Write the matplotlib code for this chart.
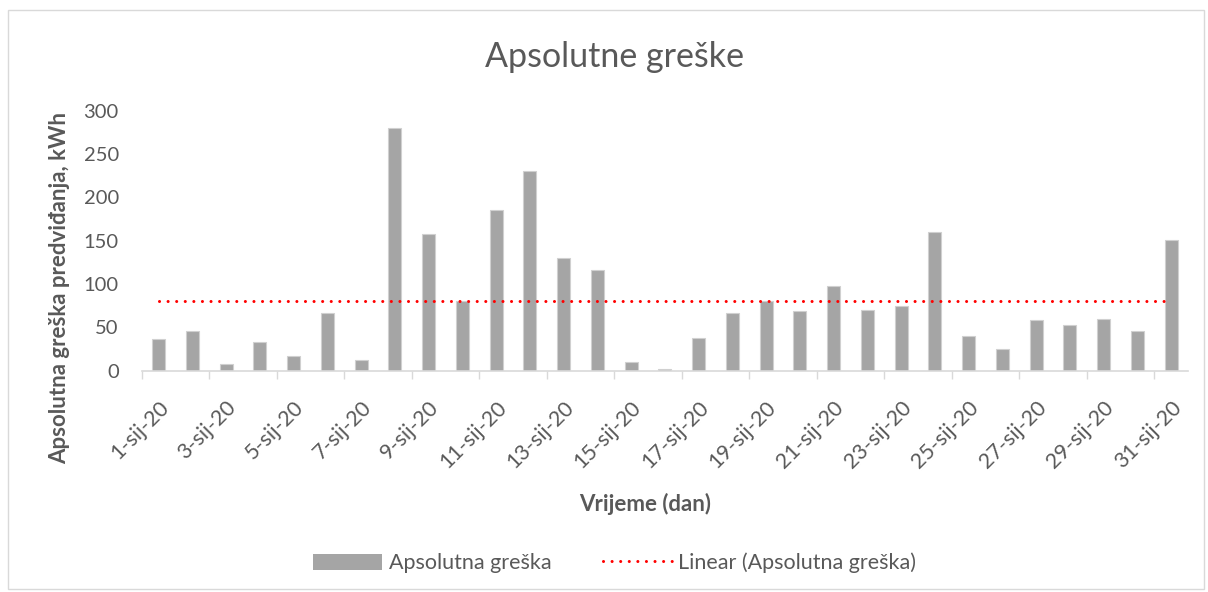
import numpy as np
import matplotlib
matplotlib.use("Agg")
import matplotlib.pyplot as plt
from matplotlib.patches import Rectangle
from matplotlib.lines import Line2D

plt.rcParams["font.family"] = ["Lato", "DejaVu Sans"]

# daily absolute forecast error, January 2020
days = list(range(1, 32))
abs_error = [37, 46, 8, 33, 17, 67, 12, 280, 158, 80,
             186, 231, 130, 116, 10, 2, 38, 67, 81, 69,
             98, 70, 75, 160, 40, 25, 59, 53, 60, 46, 151]
tick_labels = [f"{d}-sij-20" for d in days]

text_gray = "#595959"
bar_gray = "#A5A5A5"

fig = plt.figure(figsize=(12.08, 5.92), dpi=100)
ax = fig.add_axes([0.1173, 0.3738, 0.8661, 0.4392])

x = np.arange(len(days))
ax.bar(x, abs_error, width=0.385, color=bar_gray, edgecolor="#D0D0D0",
       linewidth=0.8, zorder=2)

# flat trend level across the month
trend = np.full(len(days), np.mean(abs_error))
ax.plot(x, trend, color="#FF0000", linewidth=2.2,
        linestyle=(0, (0.01, 2.8)), dash_capstyle="round", zorder=3)

ax.set_xlim(-0.5, len(days) - 0.5)
ax.set_ylim(0, 300)
ax.set_yticks(np.arange(0, 301, 50))

# category labels on every other day, tick marks between pairs of days
ax.set_xticks(x[::2])
ax.set_xticklabels(tick_labels[::2], rotation=45, ha="right",
                   rotation_mode="anchor", fontsize=15.5, color=text_gray)
ax.set_xticks(np.arange(-0.5, len(days), 2), minor=True)
ax.tick_params(axis="x", which="major", length=0, pad=19)
ax.tick_params(axis="x", which="minor", length=6, color="#D9D9D9", width=1)
ax.tick_params(axis="y", length=0, labelsize=14.5, labelcolor=text_gray, pad=16.5)

for side in ["top", "right", "left"]:
    ax.spines[side].set_visible(False)
ax.spines["bottom"].set_color("#D9D9D9")
ax.spines["bottom"].set_linewidth(1.2)

fig.text(0.509, 0.903, "Apsolutne greške", ha="center", va="center",
         fontsize=24.5, color=text_gray)
ax.set_xlabel("Vrijeme (dan)", fontsize=16, fontweight="bold",
              color=text_gray)
ax.xaxis.set_label_coords(0.481, -0.47)
ax.set_ylabel("Apsolutna greška predviđanja, kWh", fontsize=16,
              fontweight="bold", color=text_gray)
ax.yaxis.set_label_coords(-0.068, 0.318)

handles = [
    Rectangle((0, 0), 1, 1, facecolor=bar_gray, edgecolor="none"),
    Line2D([0], [0], color="#FF0000", linewidth=2.2,
           linestyle=(0, (0.01, 2.8)), dash_capstyle="round"),
]
fig.legend(handles, ["Apsolutna greška", "Linear (Apsolutna greška)"],
           loc="center", bbox_to_anchor=(0.509, 0.049), ncol=2, frameon=False,
           fontsize=15.5, labelcolor=text_gray, handlelength=3.2,
           handleheight=0.8, columnspacing=2.4, handletextpad=0.3)

# chart area border
fig.patches.append(Rectangle((0.007, 0.005), 0.99, 0.978, transform=fig.transFigure,
                             fill=False, edgecolor="#D9D9D9", linewidth=1))

fig.savefig("out.png", dpi=100, facecolor="white")
